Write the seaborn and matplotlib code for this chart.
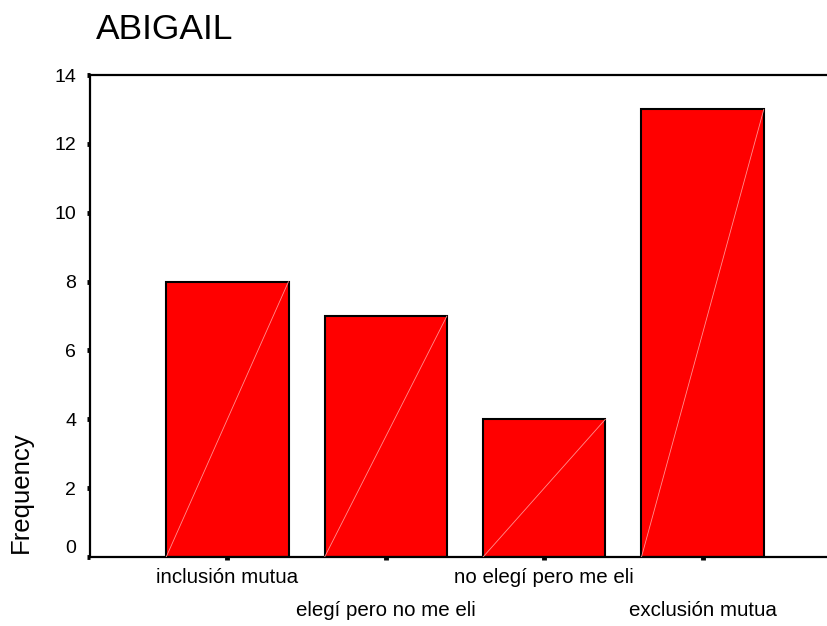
import pandas as pd
import seaborn as sns
import matplotlib.pyplot as plt

categories = ['inclusión mutua', 'elegí pero no me eli', 'no elegí pero me eli', 'exclusión mutua']
frequency = [8, 7, 4, 13]
yticks = [0, 2, 4, 6, 8, 10, 12, 14]

data = pd.DataFrame({'cat': categories, 'freq': frequency})

sns.set_style('white')
plt.rcParams['font.family'] = ['Liberation Sans', 'DejaVu Sans']
plt.rcParams['text.color'] = 'black'

fig = plt.figure(figsize=(8.27, 6.26), dpi=100)
ax = fig.add_axes([90/827, 1-557/626, 1-90/827, (557-75)/626])

sns.barplot(data=data, x='cat', y='freq', color='#ff0000', saturation=1,
            width=0.772, edgecolor='black', linewidth=1.5, ax=ax)

# thin light diagonal in each bar (SPSS look)
for p in ax.patches:
    x0, y0 = p.get_x(), p.get_y()
    ax.plot([x0, x0 + p.get_width()], [y0, y0 + p.get_height()],
            color='#ff9090', lw=0.6, zorder=5)

ax.set_xlim(-0.867, 3.785)
ax.set_ylim(0, 14)
ax.set_yticks(yticks)
ax.set_yticklabels([str(v) for v in yticks], fontsize=14)
ax.set_xticks(range(len(categories)))
ax.set_xticklabels(categories, fontsize=14.8)
for i, lab in enumerate(ax.get_xticklabels()):
    if i % 2 == 1:
        lab.set_y(-0.068)
ax.tick_params(axis='x', bottom=True, direction='out', length=2, width=3.5,
               pad=6, colors='black', labelcolor='black')
ax.tick_params(axis='y', left=True, direction='out', length=2, width=3.5,
               pad=8, colors='black', labelcolor='black')
# the 0 label sits above its tick, the rest are centred
ax.get_yticklabels()[0].set_verticalalignment('bottom')

for side in ['left', 'bottom', 'top']:
    ax.spines[side].set_visible(True)
    ax.spines[side].set_color('black')
    ax.spines[side].set_linewidth(1.6)
ax.spines['right'].set_visible(False)

ax.set_xlabel('')
ax.set_ylabel('Frequency', fontsize=18.5, color='black')
ax.yaxis.set_label_coords(-0.078, 0.135)

fig.text(96/827, 1-39/626, 'ABIGAIL', fontsize=25.5, va='baseline', ha='left', color='black')

fig.savefig('out.png', dpi=100)
